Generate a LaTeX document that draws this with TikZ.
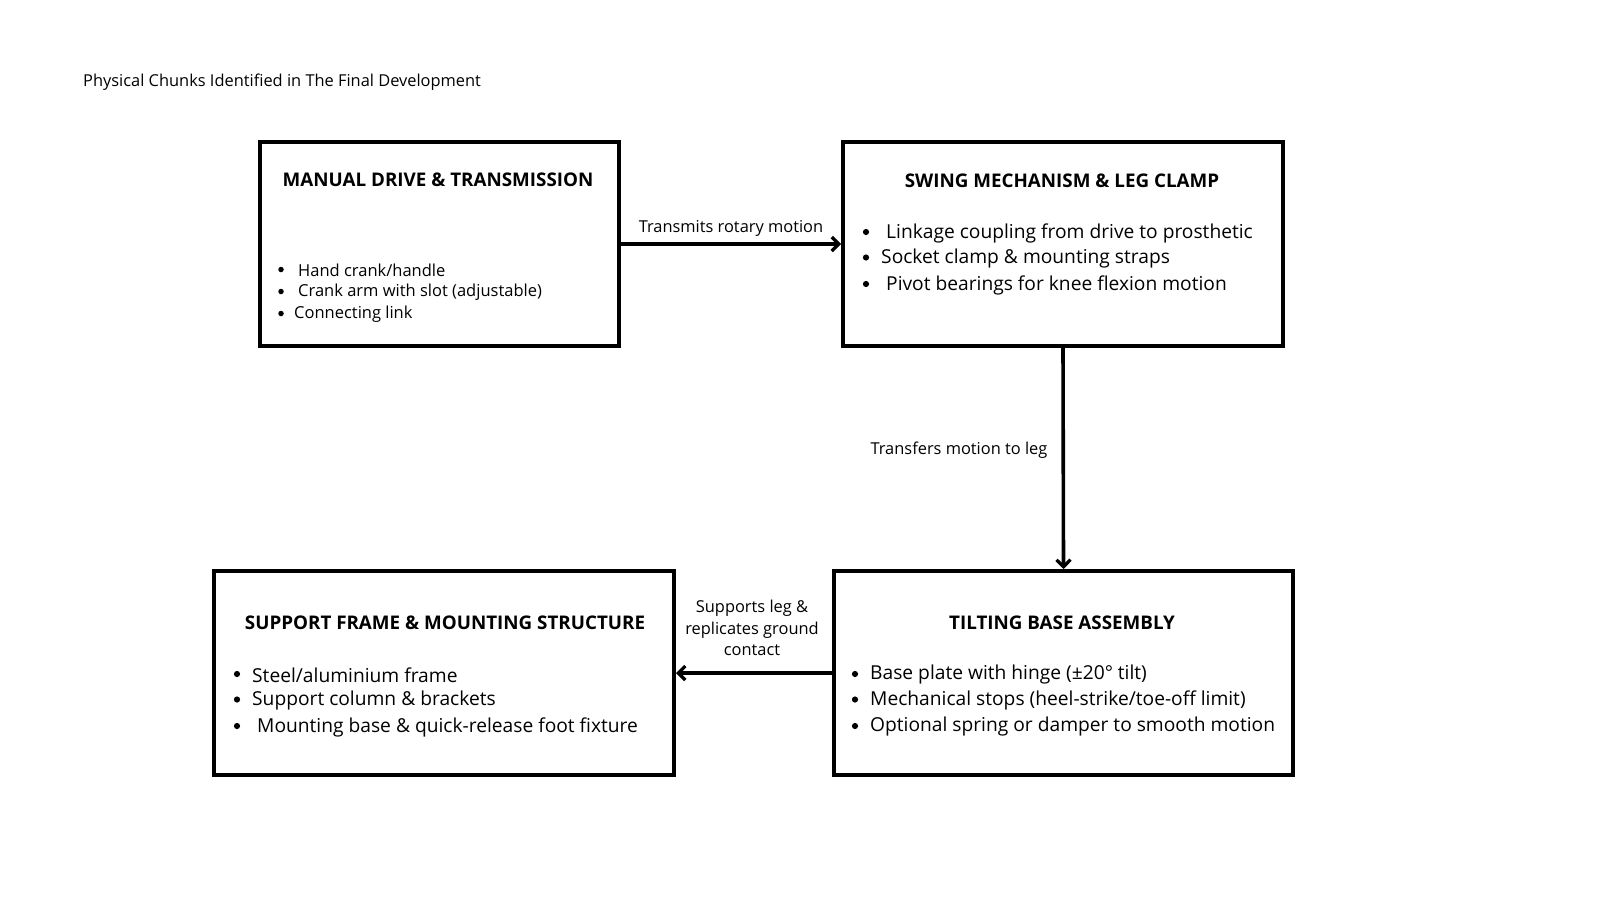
\documentclass[tikz,border=0pt]{standalone}
\usepackage{fontspec}
\setmainfont{Open Sans}
\usetikzlibrary{arrows.meta}
\begin{document}
\begin{tikzpicture}[x=1pt,y=-1pt,
  box/.style={draw=black,line width=4pt,minimum height=204pt,inner sep=0pt},
  conn/.style={line width=3.6pt,-{Straight Barb[length=7pt,width=14pt,line width=3.2pt]}},
  head/.style={font=\fontsize{18.8}{22}\selectfont\bfseries,inner sep=0pt},
  smallitem/.style={font=\fontsize{16.5}{19}\selectfont,anchor=west,inner sep=0pt},
  bigitem/.style={font=\fontsize{19.2}{22}\selectfont,anchor=west,inner sep=0pt},
  sdot/.style={circle,fill=black,inner sep=0pt,minimum size=5.5pt},
  bdot/.style={circle,fill=black,inner sep=0pt,minimum size=6.2pt},
  lbl/.style={font=\fontsize{16.4}{21.5}\selectfont,inner sep=0pt,align=center}]
\useasboundingbox[fill=white] (0,0) rectangle (1600,900);
\node[font=\fontsize{16.4}{19}\selectfont,anchor=west,inner sep=0pt] (title) at (83,82.5) {Physical Chunks Identified in The Final Development};
% boxes
\node[box,minimum width=359pt] (b1) at (439.5,244) {};
\node[box,minimum width=440pt] (b2) at (1063,244) {};
\node[box,minimum width=459pt] (b3) at (1063.5,673) {};
\node[box,minimum width=460pt] (b4) at (444,673) {};
% headings
\node[head] (h1) at (438,180) {MANUAL DRIVE \& TRANSMISSION};
\node[head] (h2) at (1062,181) {SWING MECHANISM \& LEG CLAMP};
\node[head] (h3) at (1062,622.5) {TILTING BASE ASSEMBLY};
\node[head] (h4) at (445,622.5) {SUPPORT FRAME \& MOUNTING STRUCTURE};
% box1 items
\node[sdot] (d1) at (281,269.5) {};
\node[smallitem] (t1) at (298,270.5) {Hand crank/handle};
\node[sdot] (d2) at (281,291.5) {};
\node[smallitem] (t2) at (298,292.5) {Crank arm with slot (adjustable)};
\node[sdot] (d3) at (281,313.5) {};
\node[smallitem] (t3) at (294,314.5) {Connecting link};
% box2 items
\node[bdot] (e1) at (866,232) {};
\node[bigitem] (s1) at (886,233) {Linkage coupling from drive to prosthetic};
\node[bdot] (e2) at (866,257.5) {};
\node[bigitem] (s2) at (881,258.5) {Socket clamp \& mounting straps};
\node[bdot] (e3) at (866,284) {};
\node[bigitem] (s3) at (886,285) {Pivot bearings for knee flexion motion};
% box3 items
\node[bdot] (f1) at (855,674) {};
\node[bigitem] (u1) at (870,675) {Base plate with hinge (±20° tilt)};
\node[bdot] (f2) at (855,699.5) {};
\node[bigitem] (u2) at (870,700.5) {Mechanical stops (heel-strike/toe-off limit)};
\node[bdot] (f3) at (855,726) {};
\node[bigitem] (u3) at (870,727) {Optional spring or damper to smooth motion};
% box4 items
\node[bdot] (g1) at (237,674) {};
\node[bigitem] (v1) at (252,675) {Steel/aluminium frame};
\node[bdot] (g2) at (237,699.5) {};
\node[bigitem] (v2) at (252,700.5) {Support column \& brackets};
\node[bdot] (g3) at (237,726) {};
\node[bigitem] (v3) at (257,727) {Mounting base \& quick-release foot fixture};
% connectors
\draw[conn] (b1.east) -- (b2.west);
\draw[conn] (b2.south) -- (b3.north);
\draw[conn] (b3.west) -- (b4.east);
% connector labels
\node[lbl] (l1) at (731,228.5) {Transmits rotary motion};
\node[lbl] (l2) at (959,450) {Transfers motion to leg};
\node[lbl] (l3) at (752,628) {Supports leg \&\\replicates ground\\contact};
\end{tikzpicture}
\end{document}
